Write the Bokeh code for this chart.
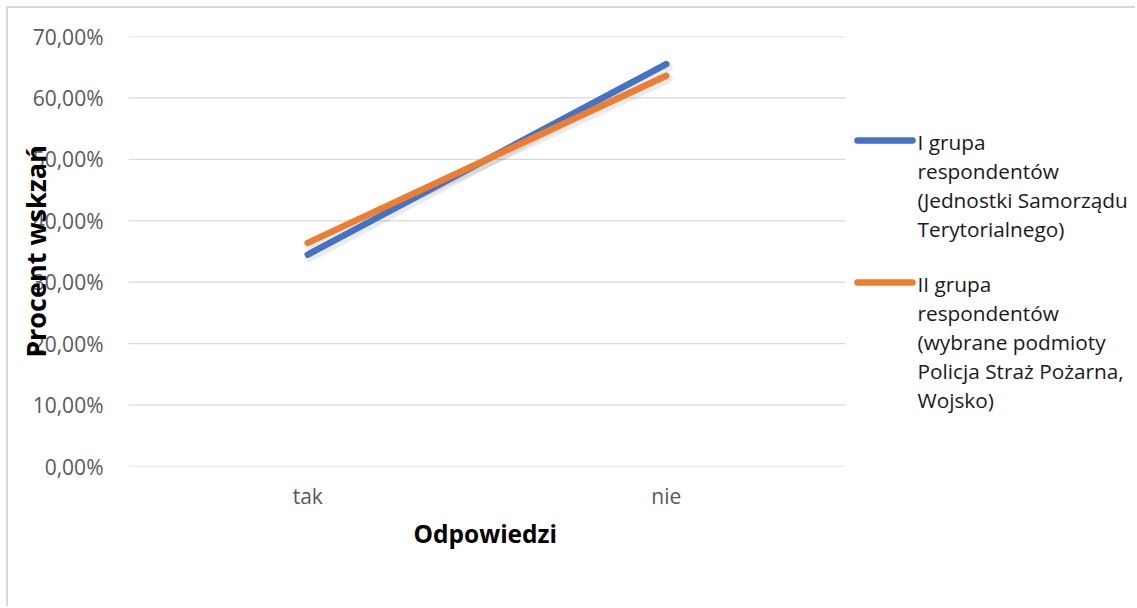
from bokeh.plotting import figure
from bokeh.models import Range1d, FixedTicker, Title
from bokeh.core.properties import value
from bokeh.embed import file_html
from bokeh.resources import INLINE

# ---------------- data ----------------
categories = ["tak", "nie"]
group1_values = [34.5, 65.5]   # I grupa respondentów (JST)
group2_values = [36.4, 63.6]   # II grupa respondentów (Policja, Straż, Wojsko)
y_ticks = [0, 10, 20, 30, 40, 50, 60, 70]
y_tick_labels = ["0,00%", "10,00%", "20,00%", "30,00%", "40,00%", "50,00%", "60,00%", "70,00%"]
legend1_lines = ["I grupa", "respondentów", "(Jednostki Samorządu", "Terytorialnego)"]
legend2_lines = ["II grupa", "respondentów", "(wybrane podmioty", "Policja Straż Pożarna,", "Wojsko)"]
x_title = "Odpowiedzi"
y_title = "Procent wskzań"

BLUE = "#4472C4"
ORANGE = "#ED7D31"
GRID = "#d9d9d9"
FONT = "Open Sans"

# ---------------- layout ----------------
ORIGIN = 8           # where the figure content starts on the page
W, H = 1137 - ORIGIN, 608 - ORIGIN
LEFT, TOP = 120, 28
PLOT_H = 430
BOTTOM = H - TOP - PLOT_H
YMAX = 70
CAT_PX = 358.5
frame_w = W - LEFT
x_end = frame_w / CAT_PX


def fx(page_x):
    return (page_x - ORIGIN - LEFT) / CAT_PX


def fy(page_y):
    return (TOP + PLOT_H + ORIGIN - page_y) * YMAX / PLOT_H


p = figure(width=W, height=H, x_range=Range1d(0, x_end), y_range=Range1d(0, YMAX),
           output_backend="svg", toolbar_location=None,
           min_border_left=LEFT, min_border_right=0, min_border_top=TOP,
           min_border_bottom=BOTTOM)
p.outline_line_color = None
p.xgrid.visible = False
p.ygrid.visible = False
p.styles = {"margin-left": "6px", "margin-top": "6px",
            "border-left": "2px solid #d9d9d9", "border-top": "2px solid #d9d9d9"}

# gridlines over the category area only
n = len(categories)
p.segment(x0=[0] * len(y_ticks), x1=[n] * len(y_ticks), y0=y_ticks, y1=y_ticks,
          line_color=GRID, line_width=1.3)

xs = [i + 0.5 for i in range(n)]

# faint shadow
dx = 2 / CAT_PX
dy = 3 * YMAX / PLOT_H
for vals in (group1_values, group2_values):
    p.line([x + dx for x in xs], [v - dy for v in vals], line_color="#000000",
           line_alpha=0.08, line_width=9, line_cap="round")

p.line(xs, group1_values, line_color=BLUE, line_width=6.5, line_cap="round")
p.line(xs, group2_values, line_color=ORANGE, line_width=6.5, line_cap="round")

# axes
p.yaxis.ticker = FixedTicker(ticks=y_ticks)
p.yaxis.major_label_overrides = {t: l for t, l in zip(y_ticks, y_tick_labels)}
p.yaxis.axis_line_color = None
p.yaxis.major_tick_line_color = None
p.yaxis.minor_tick_line_color = None
p.yaxis.major_label_standoff = 19
p.yaxis.major_label_text_font = FONT
p.yaxis.major_label_text_font_size = "21px"
p.yaxis.major_label_text_color = "#595959"
p.yaxis.axis_label = y_title
p.yaxis.axis_label_text_font = FONT
p.yaxis.axis_label_text_font_size = "27px"
p.yaxis.axis_label_text_font_style = "bold"
p.yaxis.axis_label_text_color = "#000000"
p.yaxis.axis_label_standoff = -24

p.xaxis.ticker = FixedTicker(ticks=xs)
p.xaxis.major_label_overrides = {x: c for x, c in zip(xs, categories)}
p.xaxis.axis_line_color = None
p.xaxis.major_tick_line_color = None
p.xaxis.minor_tick_line_color = None
p.xaxis.major_label_standoff = 9
p.xaxis.major_label_text_font = FONT
p.xaxis.major_label_text_font_size = "21px"
p.xaxis.major_label_text_color = "#595959"

p.add_layout(Title(text=x_title, align="left", offset=285, standoff=4,
                   text_font=FONT, text_font_size="24.5px", text_font_style="bold",
                   text_color="#000000"), "below")

# legend (drawn manually)
LH = 29
for lines, color, y0 in ((legend1_lines, BLUE, 141), (legend2_lines, ORANGE, 283)):
    p.line([fx(857), fx(912)], [fy(y0 - 1), fy(y0 - 1)], line_color=color,
           line_width=6.5, line_cap="round")
    p.text(x=[fx(917)] * len(lines), y=[fy(y0 + LH * i) for i in range(len(lines))],
           text=lines, text_font=value(FONT), text_font_size="20.8px",
           text_color="#1a1a1a", text_baseline="middle", text_align="left")

open("out.html", "w").write(file_html(p, INLINE))
